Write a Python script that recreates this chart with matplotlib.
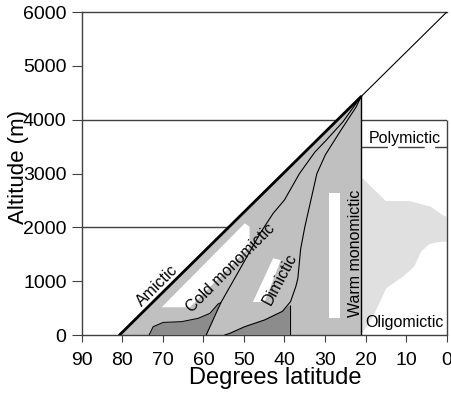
import matplotlib
matplotlib.use("Agg")
import matplotlib.pyplot as plt

plt.rcParams.update({
    "font.family": ["Liberation Sans", "DejaVu Sans"],
    "font.size": 11.5,
})

# diagonal limit of lake occurrence: altitude 0 at 80.7 deg, 6000 m at the equator
diag_lat = [80.7, 0.0]
diag_alt = [0, 6000]
peak_lat, peak_alt = 21.1, 4431

# boundary cold monomictic / dimictic
line_a_lat = [59.3, 55.7, 50.2, 46.0, 42.8, 40.0, 36.3, 32.5, 29.7, 25.6, 21.1]
line_a_alt = [0, 600, 1330, 1890, 2260, 2510, 3000, 3400, 3620, 3960, 4431]

# boundary dimictic / warm monomictic
line_b_lat = [54.7, 53.5, 49.8, 44.9, 40.5, 38.5, 37.2, 36.7, 36.0, 35.0, 33.8,
              32.0, 29.9, 26.3, 22.3, 21.1]
line_b_alt = [0, 30, 155, 280, 440, 620, 900, 1050, 1600, 2000, 2400,
              3000, 3350, 3780, 4240, 4431]

# polar dark patch (top edge)
dark1_lat = [73.4, 72.4, 69.9, 65.4, 61.3, 58.4, 56.4, 55.7]
dark1_alt = [0, 155, 235, 248, 310, 403, 576, 600]

# temperate dark patch, cut at 38.7 deg
dark2_cut = 38.7

# label backgrounds
white1_lat = [70.3, 63.3, 48.6, 48.6, 49.8]
white1_alt = [515, 515, 1635, 2012, 2075]
white2_lat = [47.8, 44.9, 40.9, 42.8]
white2_alt = [613, 613, 1394, 1425]
white3_lat = [29.06, 26.4, 26.4, 29.06]
white3_alt = [310, 310, 2633, 2633]

# tropical oligomictic distribution
oligo_lat = [21.1, 20.7, 18.2, 15.0, 9.2, 3.9, 1.0, 0.0, 0.0, 1.4, 4.3, 6.3,
             8.0, 10.8, 14.9, 16.6, 18.2, 20.3, 21.1]
oligo_alt = [2950, 2911, 2726, 2490, 2490, 2384, 2230, 2198, 1733, 1733, 1691,
             1548, 1269, 1083, 868, 589, 340, 93, 0]

poly_alt = 3500
xticks = [90, 80, 70, 60, 50, 40, 30, 20, 10, 0]
yticks = [0, 1000, 2000, 3000, 4000, 5000, 6000]

LIGHT = "#c0c0c0"
DARK = "#8c8c8c"
PALE = "#e0e0e0"
LINE = "#404040"

fig = plt.figure(figsize=(4.52, 4.0), dpi=100)
ax = fig.add_axes([0.181, 0.1625, 0.807, 0.807])
ax.set_xlim(90, 0)
ax.set_ylim(0, 6000)

# reference lines
ax.hlines(4000, 90, 0, color=LINE, lw=1, zorder=1)
ax.hlines(2000, 90, 53.8, color=LINE, lw=1, zorder=1)
ax.plot(diag_lat, diag_alt, color="black", lw=0.8, zorder=4)

# main lake region
ax.fill([diag_lat[0], peak_lat, peak_lat], [0, peak_alt, 0], color=LIGHT, lw=0, zorder=2)
ax.fill(oligo_lat, oligo_alt, color=PALE, lw=0, zorder=2)

for lat, alt in [(white1_lat, white1_alt), (white2_lat, white2_alt), (white3_lat, white3_alt)]:
    ax.fill(lat, alt, color="white", lw=0, zorder=3)

# dark patches
d1_lat = dark1_lat + [line_a_lat[0]]
d1_alt = dark1_alt + [0]
ax.fill(d1_lat, d1_alt, color=DARK, lw=0, zorder=3)
ax.plot(dark1_lat, dark1_alt, color="black", lw=0.7, zorder=4)

d2_lat = [l for l in line_b_lat if l >= dark2_cut] + [dark2_cut, dark2_cut]
d2_alt = [a for l, a in zip(line_b_lat, line_b_alt) if l >= dark2_cut] + [560, 0]
ax.fill(d2_lat, d2_alt, color=DARK, lw=0, zorder=3)
ax.vlines(dark2_cut, 0, 560, color="black", lw=0.8, zorder=4)

ax.plot(line_a_lat, line_a_alt, color="black", lw=0.8, zorder=4)
ax.plot(line_b_lat, line_b_alt, color="black", lw=0.8, zorder=4)

# outline of the region
ax.plot([diag_lat[0], peak_lat], [0, peak_alt], color="black", lw=2, zorder=5,
        solid_capstyle="round")
ax.vlines(peak_lat, 0, peak_alt, color="black", lw=1, zorder=5)

# polymictic box
ax.hlines(poly_alt, peak_lat, 0, color=LINE, lw=1, linestyles=(0, (19, 7.5)), zorder=1)
ax.vlines(0, 0, 4000, color=LINE, lw=1, zorder=5, clip_on=False)

# labels
ax.text(71.3, 914, "Amictic", rotation=44.6, ha="center", va="center",
        rotation_mode="anchor", zorder=6)
ax.text(53.2, 1239, "Cold monomictic", rotation=45, ha="center", va="center",
        rotation_mode="anchor", zorder=6)
ax.text(41.2, 1040, "Dimictic", rotation=62, ha="center", va="center",
        rotation_mode="anchor", zorder=6)
ax.text(22.5, 1518, "Warm monomictic", rotation=90, ha="center", va="center",
        rotation_mode="anchor", zorder=6)
ax.text(10.4, 3660, "Polymictic", ha="center", va="center", zorder=6)
ax.text(10.4, 230, "Oligomictic", ha="center", va="center", zorder=6)

ax.spines["right"].set_visible(False)
for side in ["left", "bottom", "top"]:
    ax.spines[side].set_color(LINE)
    ax.spines[side].set_linewidth(1)

ax.set_xticks(xticks)
ax.set_yticks(yticks)
ax.tick_params(axis="x", direction="out", length=5, pad=7, labelsize=14, color=LINE)
ax.tick_params(axis="y", direction="out", length=7, pad=4, labelsize=14, color=LINE)

ax.set_xlabel("Degrees latitude", fontsize=17)
ax.set_ylabel("Altitude (m)", fontsize=16)
ax.xaxis.set_label_coords(0.53, -0.1)
ax.yaxis.set_label_coords(-0.145, 0.52)

fig.savefig("out.png", dpi=100)
